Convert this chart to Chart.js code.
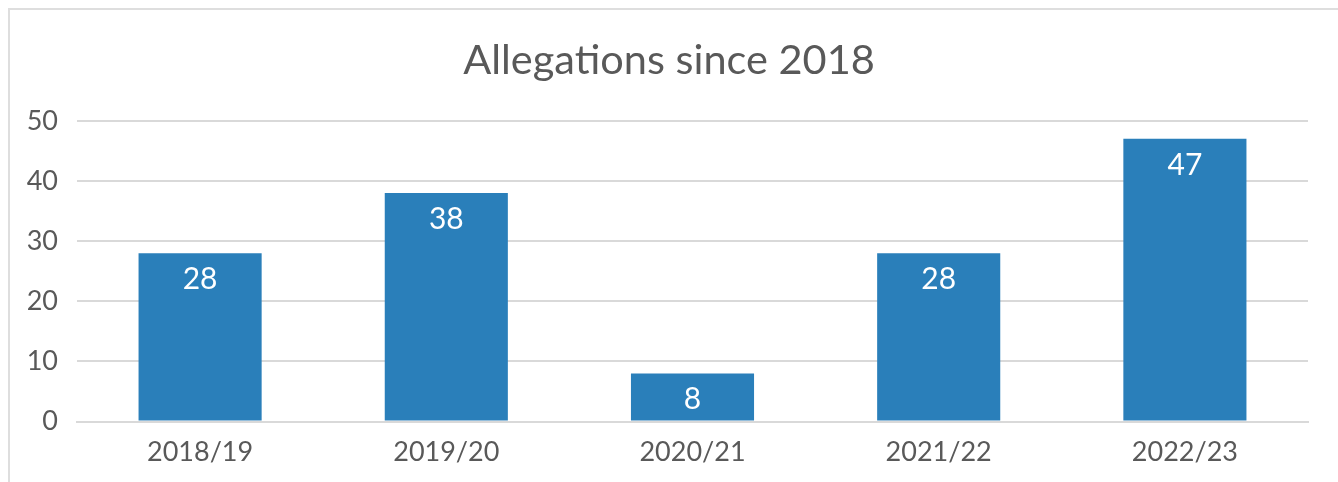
<!DOCTYPE html>
<html>
<head>
<meta charset="utf-8">
<script src="https://cdn.jsdelivr.net/npm/chart.js@4"></script>
<style>
  html, body { margin: 0; padding: 0; background: #fff; overflow: hidden; }
  #frame {
    position: absolute; left: 8px; top: 8px; width: 1340px; height: 480px;
    border-left: 2px solid #dedede; border-top: 2px solid #dedede;
  }
  #wrap { position: absolute; left: 0; top: 0; width: 1338px; height: 482px; }
</style>
</head>
<body>
<div id="frame"></div>
<div id="wrap"><canvas id="grafico"></canvas></div>
<script>
// ── Datos ──────────────────────────────────
const categorias = ['2018/19', '2019/20', '2020/21', '2021/22', '2022/23'];
const alegaciones = [28, 38, 8, 28, 47];
const ticksY = [0, 10, 20, 30, 40, 50];

const GRIS = '#595959';
const AZUL = '#2a7fba';

// Etiquetas blancas dentro de la barra
const etiquetasBarra = {
    id: 'etiquetasBarra',
    afterDatasetsDraw(chart) {
        const ctx = chart.ctx;
        const meta = chart.getDatasetMeta(0);
        ctx.save();
        ctx.fillStyle = '#ffffff';
        ctx.font = '30px Lato';
        ctx.textAlign = 'center';
        ctx.textBaseline = 'middle';
        meta.data.forEach((bar, i) => {
            ctx.fillText(String(alegaciones[i]), bar.x, bar.y + 26);
        });
        ctx.restore();
    }
};

new Chart(document.getElementById('grafico'), {
    type: 'bar',
    data: {
        labels: categorias,
        datasets: [{
            label: 'Allegations',
            data: alegaciones,
            backgroundColor: AZUL,
            barPercentage: 0.5,
            categoryPercentage: 1.0
        }]
    },
    options: {
        responsive: true,
        maintainAspectRatio: false,
        animation: false,
        layout: { padding: { top: 20, right: 0, bottom: 0, left: 0 } },
        plugins: {
            legend: { display: false },
            tooltip: { enabled: false },
            title: {
                display: true,
                text: 'Allegations since 2018',
                color: GRIS,
                font: { family: 'Lato', size: 41.5, weight: 'normal' },
                padding: { top: 16, bottom: 35 }
            }
        },
        scales: {
            x: {
                grid: { display: false, drawTicks: false },
                border: { display: true, color: '#d9d9d9', width: 2 },
                ticks: { color: GRIS, font: { family: 'Lato', size: 27 }, padding: 14 }
            },
            y: {
                min: 0,
                max: 50,
                afterBuildTicks: scale => { scale.ticks = ticksY.map(v => ({ value: v })); },
                afterFit: scale => { scale.width = 77; },
                grid: { color: '#d9d9d9', lineWidth: 2, drawTicks: false },
                border: { display: false },
                ticks: { color: GRIS, font: { family: 'Lato', size: 27 }, padding: 19 }
            },
            // margen derecho vacío
            margenDer: {
                type: 'linear',
                position: 'right',
                min: 0,
                max: 50,
                afterFit: scale => { scale.width = 30; },
                grid: { display: false, drawTicks: false },
                border: { display: false },
                ticks: { display: false }
            }
        }
    },
    plugins: [etiquetasBarra]
});
</script>
</body>
</html>
